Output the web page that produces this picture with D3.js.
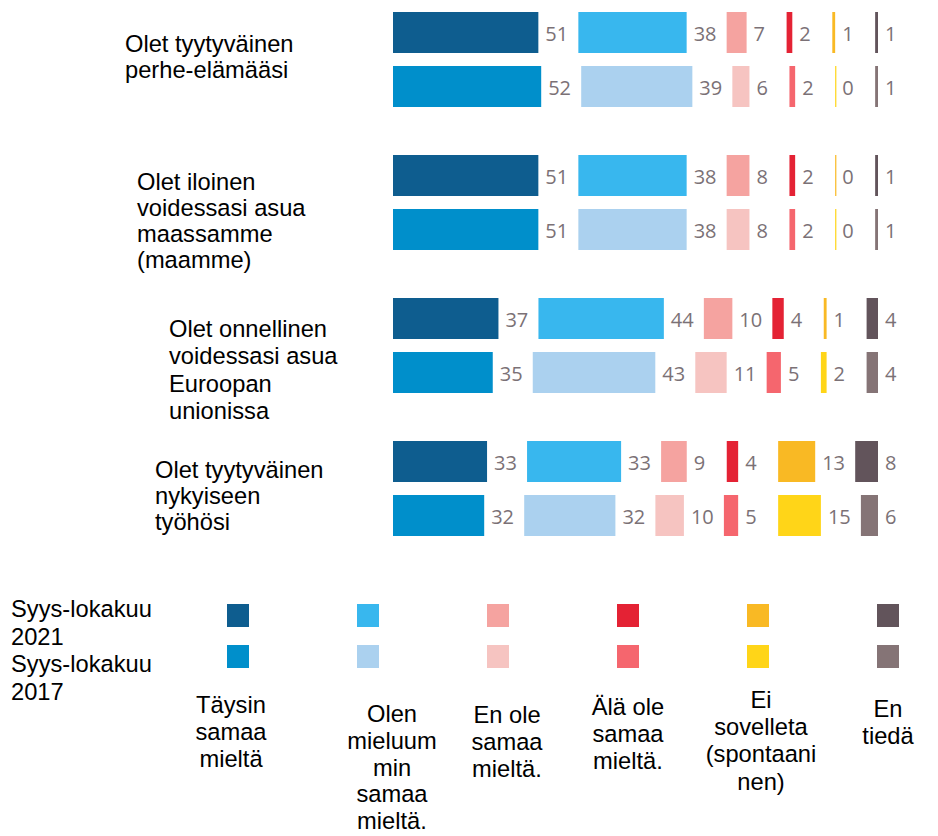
<!DOCTYPE html>
<html>
<head>
<meta charset="utf-8">
<script src="https://cdn.jsdelivr.net/npm/d3@7"></script>
<style>
  html, body { margin: 0; padding: 0; background: #fff; }
  svg { display: block; }
</style>
</head>
<body>
<svg id="chart" width="938" height="836"></svg>
<script>
// ---------- data ----------
const questions = [
  ["Olet tyytyväinen", "perhe-elämääsi"],
  ["Olet iloinen", "voidessasi asua", "maassamme", "(maamme)"],
  ["Olet onnellinen", "voidessasi asua", "Euroopan", "unionissa"],
  ["Olet tyytyväinen", "nykyiseen", "työhösi"]
];
const categories = [
  ["Täysin", "samaa", "mieltä"],
  ["Olen", "mieluum", "min", "samaa", "mieltä."],
  ["En ole", "samaa", "mieltä."],
  ["Älä ole", "samaa", "mieltä."],
  ["Ei", "sovelleta", "(spontaani", "nen)"],
  ["En", "tiedä"]
];
const seriesNames = [["Syys-lokakuu", "2021"], ["Syys-lokakuu", "2017"]];
const values2021 = [
  [51, 38, 7, 2, 1, 1],
  [51, 38, 8, 2, 0, 1],
  [37, 44, 10, 4, 1, 4],
  [33, 33, 9, 4, 13, 8]
];
const values2017 = [
  [52, 39, 6, 2, 0, 1],
  [51, 38, 8, 2, 0, 1],
  [35, 43, 11, 5, 2, 4],
  [32, 32, 10, 5, 15, 6]
];
const colors2021 = ["#0e5d8f", "#38b7ee", "#f5a3a0", "#e42234", "#f9b924", "#62545b"];
const colors2017 = ["#008fcb", "#abd1ef", "#f6c4c1", "#f5666e", "#ffd518", "#857476"];

// ---------- layout ----------
const svg = d3.select("#chart");
const x = d3.scaleLinear().domain([0, 100]).range([0, 285]);
const barStart = 393, gap = 40, barH = 41;
const groupY = d3.scaleLinear().domain([0, 1]).range([12, 155]); // group spacing 143
const rowOffset = [0, 54];

const labelFont = "'Liberation Sans', Arial, sans-serif";
const valueFont = "'Open Sans', 'Noto Sans', sans-serif";
const labelSize = 23.7;

const allSeries = [
  { vals: values2021, cols: colors2021 },
  { vals: values2017, cols: colors2017 }
];

allSeries.forEach((s, si) => {
  s.vals.forEach((row, qi) => {
    const y0 = groupY(qi) + rowOffset[si];
    let cur = barStart;
    const segs = row.map((v, ci) => {
      const w = Math.max(x(v), 1.2);
      const seg = { v, ci, x: cur, w };
      cur = cur + x(v) + gap;
      return seg;
    });
    const g = svg.append("g");
    g.selectAll("rect").data(segs).join("rect")
      .attr("x", d => d.x)
      .attr("y", y0)
      .attr("width", d => d.w)
      .attr("height", barH)
      .attr("fill", d => s.cols[d.ci]);
    g.selectAll("text").data(segs).join("text")
      .attr("x", d => d.x + x(d.v) + 7)
      .attr("y", y0 + barH / 2 + 1)
      .attr("dominant-baseline", "central")
      .attr("font-family", valueFont)
      .attr("font-size", 20)
      .attr("fill", "#7b7176")
      .text(d => d.v);
  });
});

// question labels
const qPos = [
  { x: 125, y: 52, lh: 25.5 },
  { x: 137, y: 190, lh: 26 },
  { x: 169, y: 337, lh: 27.3 },
  { x: 155, y: 478, lh: 26 }
];
questions.forEach((lines, qi) => {
  const t = svg.append("text")
    .attr("font-family", labelFont)
    .attr("font-size", labelSize)
    .attr("fill", "#000");
  lines.forEach((ln, li) => {
    t.append("tspan").attr("x", qPos[qi].x).attr("y", qPos[qi].y + li * qPos[qi].lh).text(ln);
  });
});

// legend: series names
const serText = svg.append("text")
  .attr("font-family", labelFont).attr("font-size", labelSize).attr("fill", "#000");
seriesNames.flat().forEach((ln, i) => {
  serText.append("tspan").attr("x", 11).attr("y", 617 + i * 27.7).text(ln);
});

// legend: swatches
const legX = d3.scaleLinear().domain([0, 1]).range([227, 357]);
const swW = 22, swH = 23;
[colors2021, colors2017].forEach((cols, si) => {
  svg.append("g").selectAll("rect").data(cols).join("rect")
    .attr("x", (d, i) => legX(i))
    .attr("y", si === 0 ? 604 : 645)
    .attr("width", swW)
    .attr("height", swH)
    .attr("fill", d => d);
});

// legend: category labels
const catPos = [
  { cx: 231, y: 713, lh: 27.2 },
  { cx: 392, y: 722, lh: 26.8 },
  { cx: 507, y: 723, lh: 27.2 },
  { cx: 628, y: 715, lh: 27.2 },
  { cx: 761, y: 708, lh: 27.2 },
  { cx: 888, y: 717, lh: 27.2 }
];
categories.forEach((lines, ci) => {
  const t = svg.append("text")
    .attr("font-family", labelFont).attr("font-size", labelSize).attr("fill", "#000")
    .attr("text-anchor", "middle");
  lines.forEach((ln, li) => {
    t.append("tspan").attr("x", catPos[ci].cx).attr("y", catPos[ci].y + li * catPos[ci].lh).text(ln);
  });
});
</script>
</body>
</html>
